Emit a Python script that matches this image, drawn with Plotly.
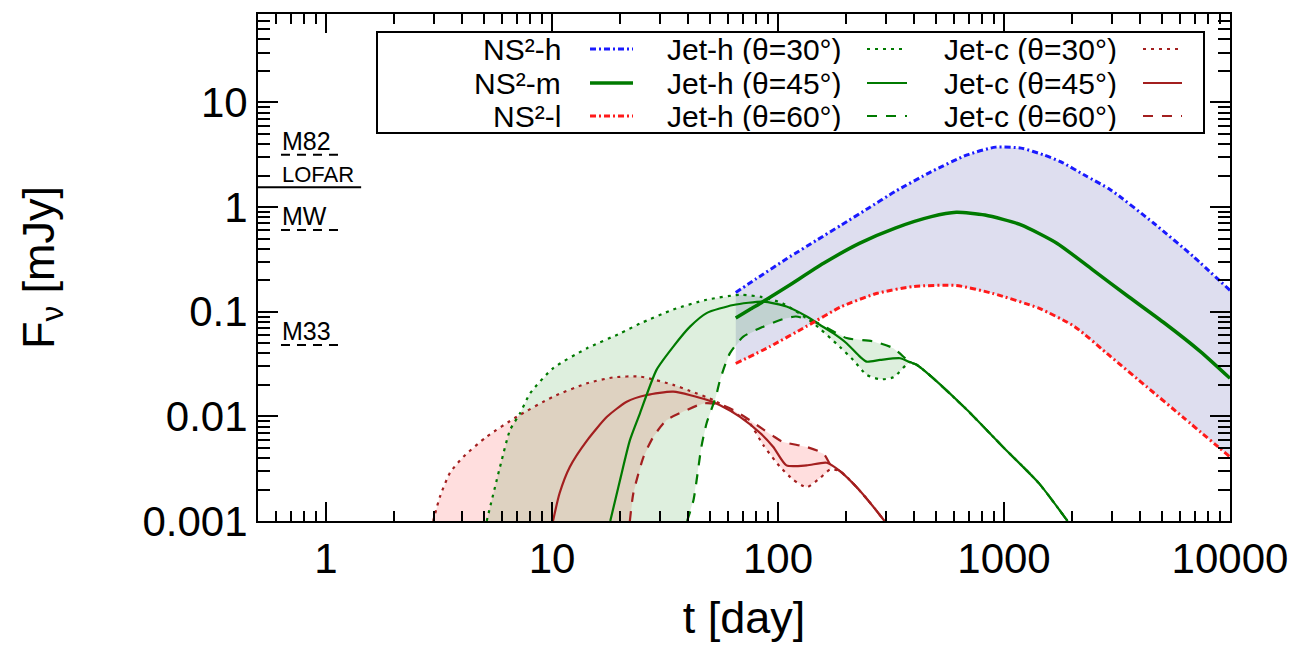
import numpy as np
import plotly.graph_objects as go

# ---------------- data (t in days, F_nu in mJy) ----------------
# NS^2 merger-ejecta models (h / m / l)
ns2_h_t = [65, 80, 110, 150, 191, 250, 330, 477, 687, 920, 1189, 1500, 1778, 2300, 2965, 4600, 6890, 10000]
ns2_h_f = [0.153, 0.206, 0.324, 0.49, 0.676, 0.97, 1.41, 2.18, 3.15, 3.74, 3.66, 3.15, 2.72, 1.99, 1.46, 0.70, 0.336, 0.16]

ns2_m_t = [65, 75, 86, 110, 159, 229, 330, 477, 615, 824, 1189, 1713, 2470, 3560, 5140, 7400, 10000]
ns2_m_f = [0.087, 0.105, 0.125, 0.174, 0.29, 0.45, 0.63, 0.81, 0.89, 0.84, 0.676, 0.452, 0.251, 0.139, 0.0776, 0.0416, 0.0231]

ns2_l_t = [65, 92, 133, 191, 275, 397, 615, 887, 1426, 2055, 2965, 4275, 6166, 10000]
ns2_l_f = [0.032, 0.0464, 0.072, 0.112, 0.150, 0.174, 0.178, 0.150, 0.108, 0.072, 0.0372, 0.0192, 0.0099, 0.0041]

# Jet-h (hot cocoon) for three viewing angles; late-time tail is shared
jet_h30_t = [5.14, 5.89, 6.52, 7.22, 8.0, 10.1, 14.3, 20.0, 24.5, 34.4, 48.3, 67.9, 85, 105, 143, 188, 215, 247, 283, 324, 383]
jet_h30_f = [0.001, 0.0033, 0.0074, 0.0107, 0.0166, 0.0288, 0.0448, 0.062, 0.077, 0.105, 0.13, 0.145, 0.138, 0.12, 0.078, 0.046, 0.0346, 0.0249, 0.0226, 0.0236, 0.033]

jet_h45_t = [18.1, 20.0, 22.1, 24.5, 29.0, 34.4, 40.8, 48.3, 63.4, 86.1, 109, 134, 153, 176, 201, 231, 247, 283, 347, 383]
jet_h45_f = [0.001, 0.00247, 0.0059, 0.0107, 0.0278, 0.0464, 0.072, 0.097, 0.116, 0.125, 0.112, 0.090, 0.075, 0.062, 0.050, 0.037, 0.0333, 0.0346, 0.0359, 0.033]

jet_h60_t = [39.6, 42.3, 45.8, 48.3, 53.1, 55.4, 61.2, 70.2, 86.1, 105, 120, 150, 201, 264, 324, 383]
jet_h60_f = [0.001, 0.0016, 0.0051, 0.0086, 0.0154, 0.0223, 0.040, 0.0578, 0.072, 0.085, 0.09, 0.078, 0.056, 0.052, 0.0448, 0.033]

jet_h_tail_t = [412, 477, 687, 990, 1426, 1910]
jet_h_tail_f = [0.031, 0.024, 0.0115, 0.0051, 0.0023, 0.001]

# Jet-c (cold cocoon) for three viewing angles; late-time tail is shared
jet_c30_t = [2.98, 3.19, 3.54, 4.05, 5.14, 6.98, 10.1, 14.3, 18.7, 24.5, 34.4, 40.8, 51.8, 63.4, 74.9, 86.1, 102, 117, 134, 153, 170]
jet_c30_f = [0.001, 0.0017, 0.0029, 0.0041, 0.0064, 0.0099, 0.0154, 0.0207, 0.0236, 0.024, 0.020, 0.0175, 0.0143, 0.011, 0.0086, 0.0053, 0.0033, 0.00247, 0.0021, 0.00256, 0.0031]

jet_c45_t = [10.1, 10.8, 12.0, 14.3, 17.5, 21.4, 26.2, 34.4, 48.3, 55.4, 67.9, 83.6, 95.3, 109, 134, 164]
jet_c45_f = [0.001, 0.00184, 0.0033, 0.0059, 0.0099, 0.0138, 0.016, 0.0172, 0.0144, 0.0128, 0.0099, 0.0069, 0.0051, 0.0034, 0.0034, 0.0036]

jet_c60_t = [22.1, 22.9, 25.4, 28.1, 32.1, 38.1, 46.8, 55.4, 63.4, 75, 86, 95, 105, 134, 159, 173]
jet_c60_f = [0.001, 0.00184, 0.0041, 0.0064, 0.0092, 0.0111, 0.0133, 0.013, 0.0115, 0.0092, 0.0075, 0.0065, 0.0057, 0.0051, 0.0044, 0.0033]

jet_c_tail_t = [188, 223, 264, 296]
jet_c_tail_f = [0.0030, 0.0021, 0.00137, 0.001]

# Reference flux levels marked at the left edge
ref_names = ["M82", "LOFAR", "MW", "M33"]
ref_flux = [3.16, 1.55, 0.605, 0.048]
ref_t_start = [0.632, 0.5, 0.632, 0.632]
ref_t_end = [1.153, 1.43, 1.153, 1.153]

# Axis ticks
x_tickvals = [1, 10, 100, 1000, 10000]
x_ticktext = ["1", "10", "100", "1000", "10000"]
y_tickvals = [0.001, 0.01, 0.1, 1, 10]
y_ticktext = ["0.001", "0.01", "0.1", "1", "10"]
x_range = [0.5, 10000]
y_range = [0.001, 70]

# ---------------- styles ----------------
FONT = "Liberation Sans, Arial, Helvetica, sans-serif"
BLUE = "#1a1aff"
RED = "#ff1a1a"
GREEN = "#007a00"
DRED = "#a31f1f"
DOT = "3px,5px"
DASH = "10px,9px"
DASHDOT = "6px,3px,2px,3px"

W, H = 1296, 646
PAGE_OFF = 8                      # page body offset of the plot div
REF_L, REF_T, PW, PH = 258, 14, 972, 507   # plot box on the screen
ML = REF_L - PAGE_OFF
MT = REF_T - PAGE_OFF
MR = W - ML - PW
MB = H - MT - PH


def pxx(px):
    return (px - REF_L) / PW


def pxy(py):
    return (REF_T + PH - py) / PH


def band(t1, f1, t2, f2):
    return list(t1) + list(t2)[::-1], list(f1) + list(f2)[::-1]


fig = go.Figure()

# filled bands
bx, by = band(ns2_h_t, ns2_h_f, ns2_l_t, ns2_l_f)
fig.add_trace(go.Scatter(x=bx, y=by, fill="toself", mode="none",
                         fillcolor="rgba(0,0,128,0.13)", hoverinfo="skip"))
bx, by = band(jet_c30_t, jet_c30_f, jet_c60_t, jet_c60_f)
fig.add_trace(go.Scatter(x=bx, y=by, fill="toself", mode="none",
                         fillcolor="rgba(255,0,0,0.13)", hoverinfo="skip"))
bx, by = band(jet_h30_t, jet_h30_f, jet_h60_t, jet_h60_f)
fig.add_trace(go.Scatter(x=bx, y=by, fill="toself", mode="none",
                         fillcolor="rgba(0,128,0,0.13)", hoverinfo="skip"))

# lines
series = [
    (jet_c30_t + jet_c_tail_t, jet_c30_f + jet_c_tail_f, DRED, DOT, 2.2, "Jet-c (θ=30°)"),
    (jet_c45_t + jet_c_tail_t, jet_c45_f + jet_c_tail_f, DRED, "solid", 2.2, "Jet-c (θ=45°)"),
    (jet_c60_t + jet_c_tail_t, jet_c60_f + jet_c_tail_f, DRED, DASH, 2.2, "Jet-c (θ=60°)"),
    (jet_h30_t + jet_h_tail_t, jet_h30_f + jet_h_tail_f, GREEN, DOT, 2.2, "Jet-h (θ=30°)"),
    (jet_h45_t + jet_h_tail_t, jet_h45_f + jet_h_tail_f, GREEN, "solid", 2.2, "Jet-h (θ=45°)"),
    (jet_h60_t + jet_h_tail_t, jet_h60_f + jet_h_tail_f, GREEN, DASH, 2.2, "Jet-h (θ=60°)"),
    (ns2_h_t, ns2_h_f, BLUE, DASHDOT, 3, "NS²-h"),
    (ns2_l_t, ns2_l_f, RED, DASHDOT, 3, "NS²-l"),
    (ns2_m_t, ns2_m_f, GREEN, "solid", 3.5, "NS²-m"),
]
for t, f, c, d, w, name in series:
    fig.add_trace(go.Scatter(x=t, y=f, mode="lines", name=name,
                             line=dict(color=c, dash=d, width=w, shape="spline", smoothing=0.6)))

# reference levels
for name, fl, t0, t1 in zip(ref_names, ref_flux, ref_t_start, ref_t_end):
    solid = name == "LOFAR"
    fig.add_trace(go.Scatter(x=[t0, t1], y=[fl, fl], mode="lines",
                             line=dict(color="black", width=2, dash="solid" if solid else "9px,7px")))
    fig.add_annotation(x=np.log10(0.632), y=np.log10(fl), xref="x", yref="y",
                       text=name, showarrow=False, xanchor="left", yanchor="bottom",
                       yshift=-1, borderpad=0,
                       font=dict(family=FONT, size=22 if solid else 25, color="black"))

# manual legend (gnuplot style: text then sample)
shapes = [dict(type="rect", xref="paper", yref="paper",
               x0=pxx(377), x1=pxx(1204), y0=pxy(133), y1=pxy(32),
               line=dict(color="black", width=2), fillcolor="white", layer="above")]
rows_py = [49, 83, 116]
cols = [
    (562, (590, 633), [("NS²-h", BLUE, DASHDOT, 3), ("NS²-m", GREEN, "solid", 3.5),
                       ("NS²-l", RED, DASHDOT, 3)]),
    (843, (867, 907), [("Jet-h (θ=30°)", GREEN, DOT, 2.2), ("Jet-h (θ=45°)", GREEN, "solid", 2.2),
                       ("Jet-h (θ=60°)", GREEN, DASH, 2.2)]),
    (1118, (1143, 1182), [("Jet-c (θ=30°)", DRED, DOT, 2.2), ("Jet-c (θ=45°)", DRED, "solid", 2.2),
                          ("Jet-c (θ=60°)", DRED, DASH, 2.2)]),
]
annotations = []
for text_right, (s0, s1), entries in cols:
    for py, (txt, c, d, w) in zip(rows_py, entries):
        annotations.append(dict(xref="paper", yref="paper", x=pxx(text_right), y=pxy(py),
                                text=txt, showarrow=False, xanchor="right", yanchor="middle",
                                height=30, borderpad=0,
                                font=dict(family=FONT, size=30, color="black")))
        shapes.append(dict(type="line", xref="paper", yref="paper",
                           x0=pxx(s0), x1=pxx(s1), y0=pxy(py), y1=pxy(py),
                           line=dict(color=c, dash=d, width=w), layer="above"))
for a in annotations:
    fig.add_annotation(**a)

x_minor = [m * 10.0 ** k for k in range(-1, 4) for m in range(2, 10) if m * 10.0 ** k >= 0.5]
y_minor = [m * 10.0 ** k for k in range(-3, 2) for m in range(2, 10) if m * 10.0 ** k <= 70]

axis_common = dict(type="log", ticks="inside", tickwidth=2, tickcolor="black",
                   showline=True, linewidth=2, linecolor="black", mirror="allticks",
                   showgrid=False, zeroline=False,
                   tickfont=dict(family=FONT, size=42, color="black"))

fig.update_layout(
    width=W, height=H,
    margin=dict(l=ML, r=MR, t=MT, b=MB, autoexpand=False),
    paper_bgcolor="white", plot_bgcolor="white",
    showlegend=False,
    font=dict(family=FONT, color="black"),
    shapes=shapes,
    xaxis=dict(axis_common, range=[np.log10(x_range[0]), np.log10(x_range[1])],
               tickvals=x_tickvals, ticktext=x_ticktext, ticklen=19,
               minor=dict(tickvals=x_minor, ticks="inside", ticklen=10, tickwidth=2,
                          tickcolor="black", showgrid=False),
               title=dict(text="t [day]", standoff=20, font=dict(family=FONT, size=45))),
    yaxis=dict(axis_common, range=[np.log10(y_range[0]), np.log10(y_range[1])],
               tickvals=y_tickvals, ticktext=y_ticktext, ticklen=20,
               minor=dict(tickvals=y_minor, ticks="inside", ticklen=12, tickwidth=2,
                          tickcolor="black", showgrid=False),
               title=dict(text="F<sub>ν</sub> [mJy]", standoff=74, font=dict(family=FONT, size=45))),
)

fig.write_html("out.html")
